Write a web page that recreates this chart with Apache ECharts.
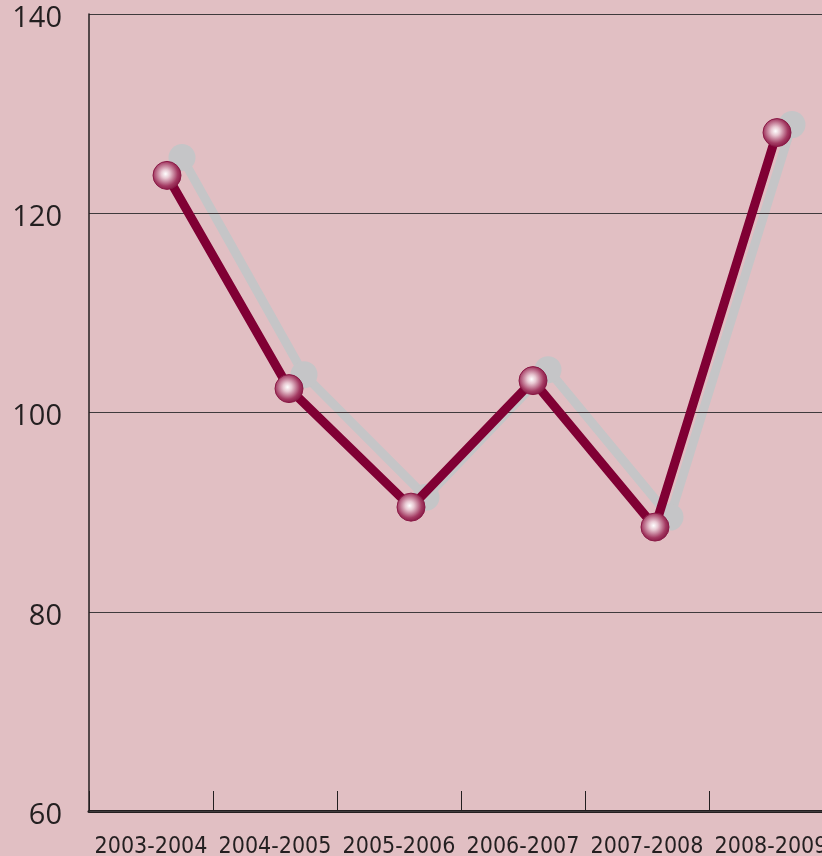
<!DOCTYPE html>
<html>
<head>
<meta charset="utf-8">
<script src="https://cdn.jsdelivr.net/npm/echarts@6/dist/echarts.min.js"></script>
<style>
html,body{margin:0;padding:0;background:#E1BFC3;}
#c{width:822px;height:856px;}
</style>
</head>
<body>
<div id="c"></div>
<script>
const categories = ['2003-2004', '2004-2005', '2005-2006', '2006-2007', '2007-2008', '2008-2009'];
const primaryValues = [123.8, 102.4, 90.5, 103.2, 88.5, 128.1];
const shadowValues = [125.6, 103.8, 91.5, 104.3, 89.5, 128.9];
const yMin = 60, yMax = 140, yStep = 20;

const XFONT = '"DejaVu Sans Condensed", "Liberation Sans Narrow", sans-serif';
const YFONT = '"Open Sans", "Noto Sans", sans-serif';
const chart = echarts.init(document.getElementById('c'), null, {renderer: 'canvas'});

const hiddenX = (gi) => ({
  type: 'category', gridIndex: gi, data: categories, boundaryGap: true,
  show: false
});
const hiddenY = (gi) => ({
  type: 'value', gridIndex: gi, min: yMin, max: yMax, interval: yStep, show: false
});

chart.setOption({
  backgroundColor: '#E1BFC3',
  animation: false,
  grid: [
    {left: 89, width: 744, top: 14, bottom: 45, outerBoundsMode: 'none', containLabel: false},
    {left: 106, width: 732, top: 14, bottom: 45, outerBoundsMode: 'none', containLabel: false},
    {left: 121, width: 732, top: 14, bottom: 45, outerBoundsMode: 'none', containLabel: false}
  ],
  xAxis: [
    {
      type: 'category', gridIndex: 0, data: categories, boundaryGap: true,
      axisLine: {show: true, lineStyle: {color: '#231F20', width: 3}},
      axisTick: {show: true, inside: true, length: 20, lineStyle: {color: '#231F20', width: 1}},
      axisLabel: {color: '#231F20', fontFamily: XFONT, fontSize: 23, margin: 25, interval: 0,
                  hideOverlap: false},
      splitLine: {show: false}
    },
    hiddenX(1), hiddenX(2)
  ],
  yAxis: [
    {
      type: 'value', gridIndex: 0, min: yMin, max: yMax, interval: yStep, z: 1,
      axisLine: {show: true, lineStyle: {color: '#231F20', width: 1.5}},
      axisTick: {show: false},
      axisLabel: {color: '#231F20', fontFamily: YFONT, fontSize: 29, margin: 27,
                  verticalAlign: 'top', lineHeight: 9},
      splitLine: {show: true, lineStyle: {color: '#3f3a3c', width: 1.2}}
    },
    hiddenY(1), hiddenY(2)
  ],
  series: [
    {
      name: 'shadow', type: 'line', xAxisIndex: 2, yAxisIndex: 2, z: 0,
      data: shadowValues,
      symbol: 'circle', symbolSize: 27,
      lineStyle: {color: '#C5C5C7', width: 9},
      itemStyle: {color: '#C5C5C7'},
      emphasis: {disabled: true}
    },
    {
      name: 'main', type: 'line', xAxisIndex: 1, yAxisIndex: 1, z: 3,
      data: primaryValues,
      symbol: 'circle', symbolSize: 28,
      lineStyle: {color: '#800034', width: 9},
      itemStyle: {
        color: new echarts.graphic.RadialGradient(0.45, 0.45, 0.6, [
          {offset: 0, color: '#FFFFFF'},
          {offset: 0.25, color: '#E8C8D2'},
          {offset: 0.7, color: '#A33A62'},
          {offset: 1, color: '#7E0E3C'}
        ]),
        borderColor: '#8A1A46', borderWidth: 1
      },
      emphasis: {disabled: true}
    }
  ]
});
</script>
</body>
</html>
